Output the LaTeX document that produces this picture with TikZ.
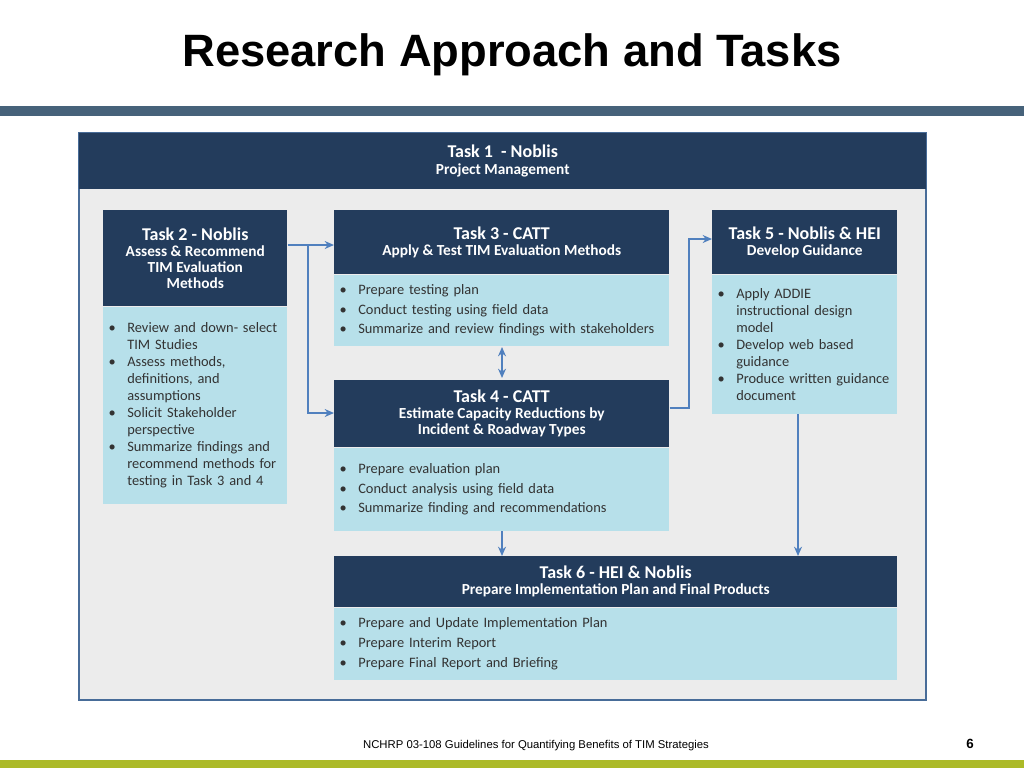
\documentclass[tikz,border=0pt]{standalone}
\usepackage{fontspec}
\setmainfont{Carlito}
\newfontfamily\arialfont{Liberation Sans}
\usetikzlibrary{positioning,arrows.meta}
\definecolor{mynavy}{RGB}{35,60,92}
\definecolor{mylightblue}{RGB}{183,224,234}
\definecolor{mypanel}{RGB}{236,236,236}
\definecolor{myframe}{RGB}{72,108,152}
\definecolor{mybar}{RGB}{70,98,122}
\definecolor{mygreen}{RGB}{172,186,40}
\definecolor{myarrow}{RGB}{80,128,190}
\newcommand{\itm}[1]{\makebox[1.3em][l]{\textbullet}#1}
\newcommand{\cnt}{\hspace*{1.3em}}

\begin{document}
\begin{tikzpicture}[
  x=0.75pt, y=-0.75pt,
  hdr/.style={
    fill=mynavy,
    text=white,
    font=\bfseries,
    align=center,
    anchor=north west,
    inner sep=2pt
    },
  bodybox/.style={
    fill=mylightblue,
    text=black!80,
    font=\fontsize{10.8}{12.8}\selectfont,
    align=left,
    anchor=north west,
    inner xsep=4pt
    },
  flow/.style={myarrow, line width=1.1pt, -{Stealth[length=7pt,width=6pt]}}
]
\useasboundingbox (0,0) rectangle (1024,768);
% title and bars
\node[font=\arialfont\bfseries\fontsize{34}{38}\selectfont] (title) at (512,55) {Research Approach and Tasks};
\fill[mybar] (0,106) rectangle (1024,116);
\fill[mygreen] (0,760) rectangle (1024,768);
\node[font=\arialfont\fontsize{8.5}{10}\selectfont] (foot) at (536,746) {NCHRP 03-108 Guidelines for Quantifying Benefits of TIM Strategies};
\node[font=\arialfont\bfseries\fontsize{10}{11}\selectfont] (page) at (970,744) {6};

% outer panel
\draw[myframe, line width=1.5pt, fill=mypanel] (79,133) rectangle (926,700);
\node[hdr, minimum width=847*0.75pt, minimum height=56*0.75pt] (t1) at (79,133)
  {{\fontsize{13.5}{16}\selectfont Task 1 \ - Noblis}\\[1pt]{\fontsize{11.5}{13}\selectfont Project Management}};

% task 2
\node[hdr, minimum width=184*0.75pt, minimum height=96*0.75pt] (t2h) at (103,210)
  {{\fontsize{13.5}{16}\selectfont Task 2 - Noblis}\\{\fontsize{11.5}{14}\selectfont Assess \& Recommend}\\{\fontsize{11.5}{14}\selectfont TIM Evaluation}\\{\fontsize{11.5}{14}\selectfont Methods}};
\node[bodybox, minimum width=184*0.75pt, minimum height=197*0.75pt, text width=184*0.75pt-8pt, below=0pt of t2h.south west, anchor=north west] (t2b)
  {\itm{Review and down- select}\\\cnt TIM Studies\\\itm{Assess methods,}\\\cnt definitions, and\\\cnt assumptions\\\itm{Solicit Stakeholder}\\\cnt perspective\\\itm{Summarize findings and}\\\cnt recommend methods for\\\cnt testing in Task 3 and 4};

% task 3
\node[hdr, minimum width=335*0.75pt, minimum height=64*0.75pt] (t3h) at (334,210)
  {{\fontsize{13.5}{16}\selectfont Task 3 - CATT}\\{\fontsize{11.5}{14}\selectfont Apply \& Test TIM Evaluation Methods}};
\node[bodybox, minimum width=335*0.75pt, minimum height=71*0.75pt, text width=335*0.75pt-8pt, below=0pt of t3h.south west, anchor=north west] (t3b)
  {\itm{Prepare testing plan}\\[2pt]\itm{Conduct testing using field data}\\[2pt]\itm{Summarize and review findings with stakeholders}};

% task 5
\node[hdr, minimum width=185*0.75pt, minimum height=64*0.75pt] (t5h) at (712,210)
  {{\fontsize{13.5}{16}\selectfont Task 5 - Noblis \& HEI}\\{\fontsize{11.5}{14}\selectfont Develop Guidance}};
\node[bodybox, minimum width=185*0.75pt, minimum height=139*0.75pt, text width=185*0.75pt-8pt, below=0pt of t5h.south west, anchor=north west] (t5b)
  {\itm{Apply ADDIE}\\\cnt instructional design\\\cnt model\\\itm{Develop web based}\\\cnt guidance\\\itm{Produce written guidance}\\\cnt document};

% task 4
\node[hdr, minimum width=335*0.75pt, minimum height=67*0.75pt] (t4h) at (334,380)
  {{\fontsize{13.5}{16}\selectfont Task 4 - CATT}\\{\fontsize{11.5}{14}\selectfont Estimate Capacity Reductions by}\\{\fontsize{11.5}{14}\selectfont Incident \& Roadway Types}};
\node[bodybox, minimum width=335*0.75pt, minimum height=83*0.75pt, text width=335*0.75pt-8pt, below=0pt of t4h.south west, anchor=north west] (t4b)
  {\itm{Prepare evaluation plan}\\[2pt]\itm{Conduct analysis using field data}\\[2pt]\itm{Summarize finding and recommendations}\\[6pt]};

% task 6
\node[hdr, minimum width=563*0.75pt, minimum height=51*0.75pt] (t6h) at (334,556)
  {{\fontsize{13.5}{16}\selectfont Task 6 - HEI \& Noblis}\\{\fontsize{11.5}{14}\selectfont Prepare Implementation Plan and Final Products}};
\node[bodybox, minimum width=563*0.75pt, minimum height=72*0.75pt, text width=563*0.75pt-8pt, below=0pt of t6h.south west, anchor=north west] (t6b)
  {\itm{Prepare and Update Implementation Plan}\\[2pt]\itm{Prepare Interim Report}\\[2pt]\itm{Prepare Final Report and Briefing}};

% connectors
\coordinate (j2) at (308,245);
\draw[flow] (t2h.east |- j2) -- (t3h.west |- j2);
\draw[flow] (j2) |- (334,413);
\draw[myarrow, line width=1.1pt, {Stealth[length=7pt,width=6pt]}-{Stealth[length=7pt,width=6pt]}] (502,347) -- (502,378);
\coordinate (j4) at (689,408);
\draw[flow] (t4h.east |- j4) -- (j4) |- (t5h.west |- 0,239);
\draw[flow] (t4b.south -| 502,0) -- (t6h.north -| 502,0);
\draw[flow] (t5b.south -| 798,0) -- (t6h.north -| 798,0);
\end{tikzpicture}
\end{document}
